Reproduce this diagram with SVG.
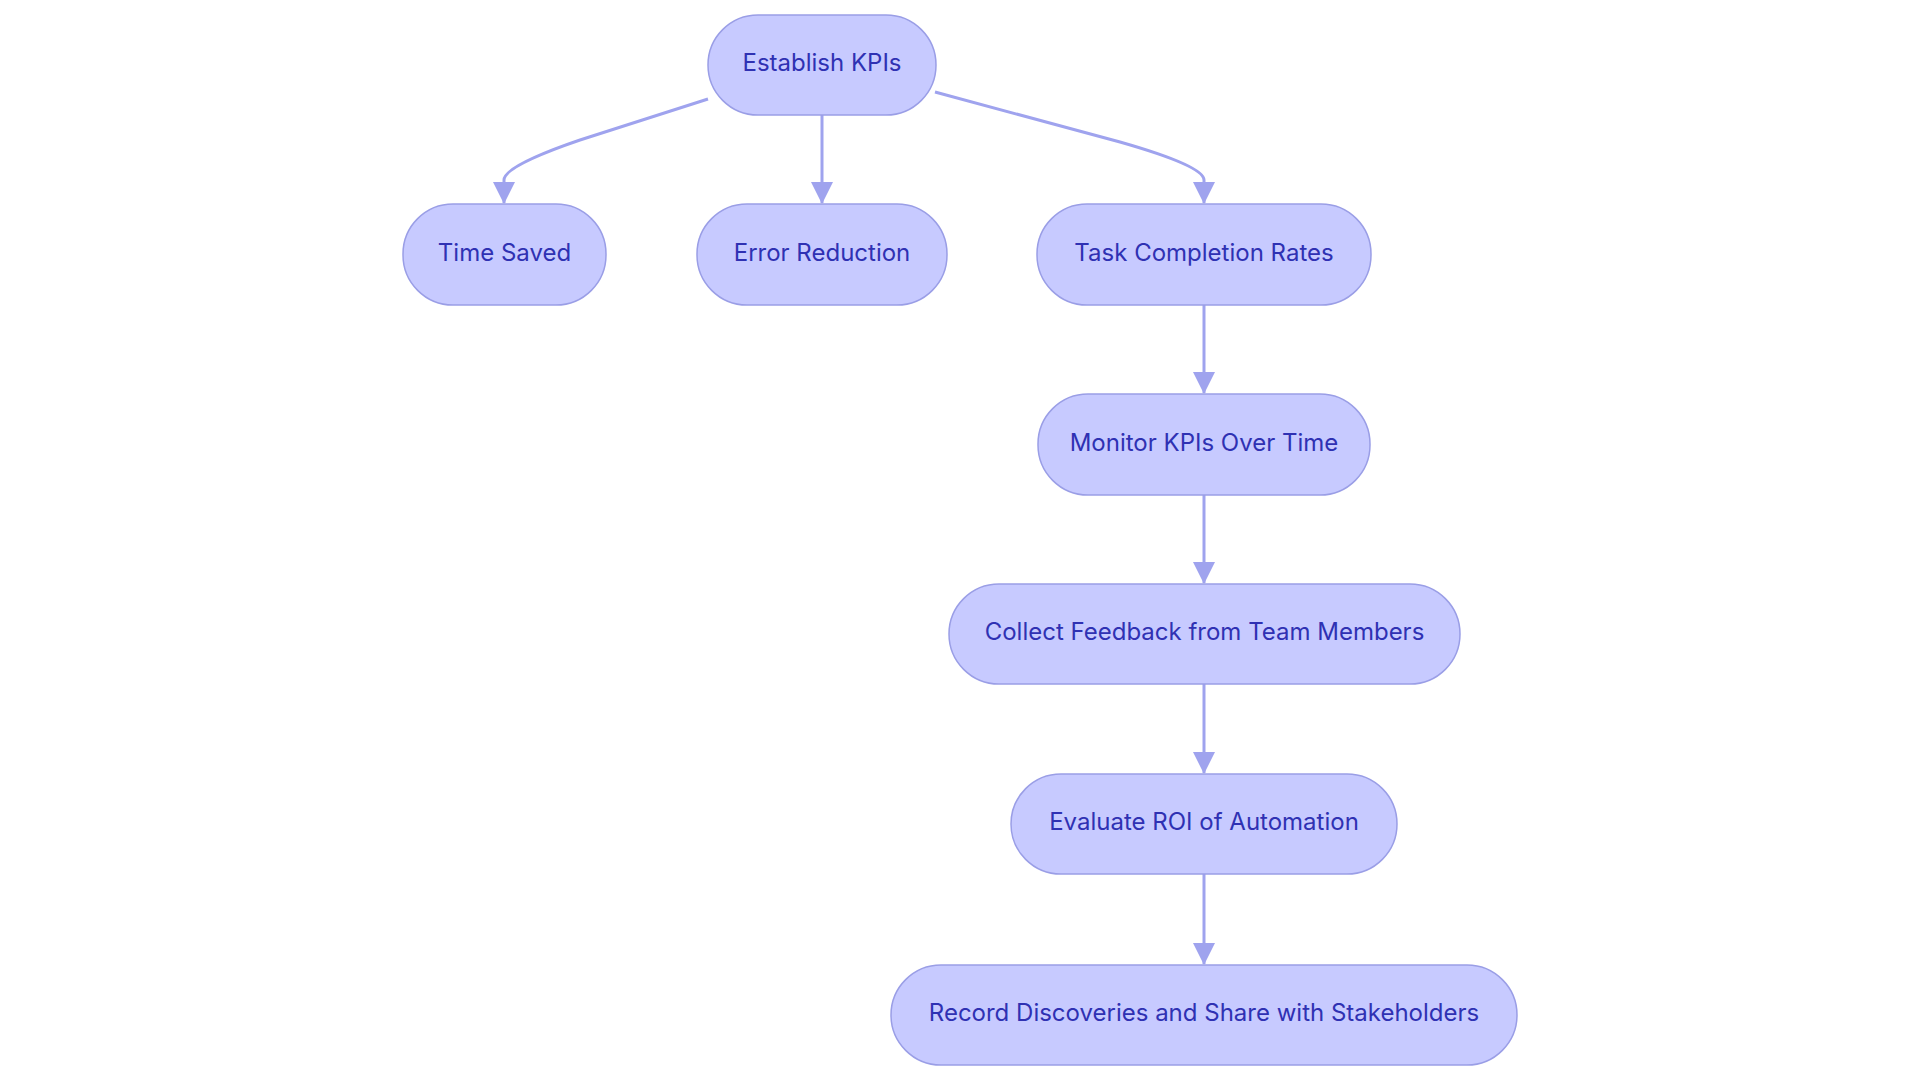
<svg xmlns="http://www.w3.org/2000/svg" width="1920" height="1083" viewBox="0 0 1920 1083">
<defs>
<style>
.node rect{fill:#C7CAFF;stroke:#9A9EE6;stroke-width:1.5}
.node text{font-family:Inter,"Noto Sans","Liberation Sans",sans-serif;font-size:24px;font-weight:400;fill:#2F31B3;text-anchor:middle;dominant-baseline:central}
.edge{fill:none;stroke:#9FA3EE;stroke-width:3;marker-end:url(#arr)}
</style>
<marker id="arr" markerUnits="userSpaceOnUse" markerWidth="22" markerHeight="22" viewBox="0 0 22 22" refX="21" refY="11" orient="auto">
<path d="M0,0 L22,11 L0,22 Z" fill="#9FA3EE"/>
</marker>
</defs>
<rect width="1920" height="1083" fill="#FFFFFF"/>
<g id="connectors">
<path class="edge" d="M708,99 L580,140 Q504,166 504,180 L504,203"/>
<path class="edge" d="M822,115 L822,203"/>
<path class="edge" d="M935,92 L1120,142 Q1204,166 1204,180 L1204,203"/>
<path class="edge" d="M1204,305 L1204,393"/>
<path class="edge" d="M1204,495 L1204,583"/>
<path class="edge" d="M1204,684 L1204,773"/>
<path class="edge" d="M1204,874 L1204,964"/>
</g>
<g id="n1" class="node"><rect x="708" y="15" width="228" height="100" rx="50"/><text x="822" y="62.5">Establish KPIs</text></g>
<g id="n2" class="node"><rect x="403" y="204" width="203" height="101" rx="50"/><text x="504.5" y="252">Time Saved</text></g>
<g id="n3" class="node"><rect x="697" y="204" width="250" height="101" rx="50"/><text x="822" y="252">Error Reduction</text></g>
<g id="n4" class="node"><rect x="1037" y="204" width="334" height="101" rx="50"/><text x="1204" y="252">Task Completion Rates</text></g>
<g id="n5" class="node"><rect x="1038" y="394" width="332" height="101" rx="50"/><text x="1204" y="442">Monitor KPIs Over Time</text></g>
<g id="n6" class="node"><rect x="949" y="584" width="511" height="100" rx="50"/><text x="1204.5" y="631.5">Collect Feedback from Team Members</text></g>
<g id="n7" class="node"><rect x="1011" y="774" width="386" height="100" rx="50"/><text x="1204" y="821.5">Evaluate ROI of Automation</text></g>
<g id="n8" class="node"><rect x="891" y="965" width="626" height="100" rx="50"/><text x="1204" y="1012.5">Record Discoveries and Share with Stakeholders</text></g>
</svg>
